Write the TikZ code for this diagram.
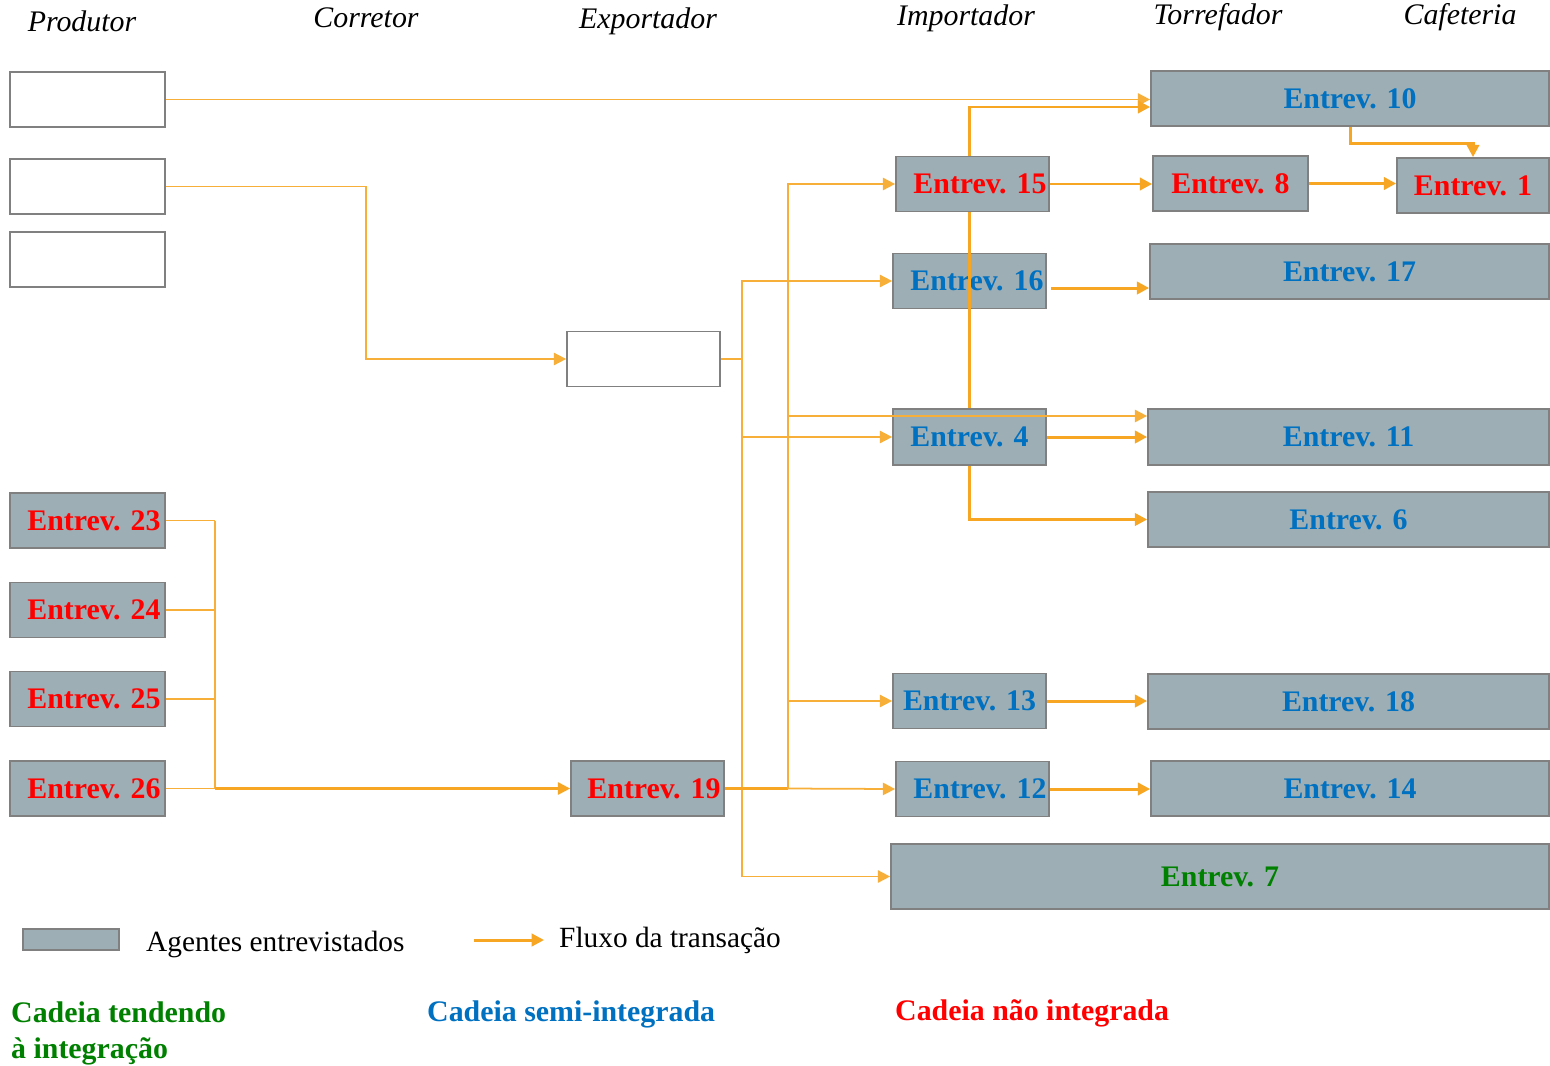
\documentclass[tikz,border=0pt]{standalone}
\usepackage{fontspec}
\setmainfont{Liberation Serif}
\usetikzlibrary{arrows.meta, positioning, calc}

\definecolor{agentgray}{RGB}{157,175,181}
\definecolor{boxline}{RGB}{128,128,128}
\definecolor{flow}{RGB}{246,166,35}
\definecolor{semiblue}{RGB}{0,112,192}
\definecolor{tendgreen}{RGB}{0,128,0}

\tikzset{
  agent/.style={draw=boxline, line width=1pt, fill=agentgray, minimum width={#1*0.02cm},
    minimum height=1.1cm, inner sep=0pt, font=\fontsize{17}{20}\selectfont\bfseries},
  blank/.style={draw=boxline, line width=1pt, fill=white, minimum width={#1*0.02cm},
    minimum height=1.1cm, inner sep=0pt},
  rtext/.style={text width={#1*0.02cm}, align=flush right},
  nint/.style={text=red},
  semi/.style={text=semiblue},
  tend/.style={text=tendgreen},
  role/.style={font=\fontsize{17}{20}\selectfont\itshape},
  legtext/.style={anchor=west, font=\fontsize{16.7}{20}\selectfont},
  chain/.style={font=\fontsize{17}{20.5}\selectfont\bfseries},
  thinflow/.style={flow!90, line width=1pt},
  midflow/.style={flow, line width=1.2pt},
  thickflow/.style={flow, line width=1.7pt},
  toarrow/.style={-{Triangle[length=7pt,width=7pt]}}
}

\begin{document}
\begin{tikzpicture}[x=0.02cm, y=-0.02cm]
	\useasboundingbox (0,0) rectangle (1550,1065);
	
	% cadeia
	\node[role] (produtor) at (82,21) {Produtor};
	\node[role] (corretor) at (366,18) {Corretor};
	\node[role] (exportador) at (648,21) {Exportador};
	\node[role] (importador) at (966,18) {Importador};
	\node[role] (torrefador) at (1218,17) {Torrefador};
	\node[role] (cafeteria) at (1460,17) {Cafeteria};
	
	% agentes
	\node[blank=155] (p1) at (87.5,99.5) {};
	\node[blank=155] (p2) at (87.5,186.5) {};
	\node[blank=155] (p3) at (87.5,259.5) {};
	\node[blank=153] (ex) at (643.5,359) {};
	
	\node[agent=155, rtext=146, nint] (e23) at (87.5,520.5) {Entrev. 23};
	\node[agent=155, rtext=146, nint] (e24) at (87.5,610) {Entrev. 24};
	\node[agent=155, rtext=146, nint] (e25) at (87.5,699) {Entrev. 25};
	\node[agent=155, rtext=146, nint] (e26) at (87.5,788.5) {Entrev. 26};
	\node[agent=153, rtext=146, nint] (e19) at (647.5,788.5) {Entrev. 19};
	
	\node[agent=153, rtext=148, nint] (e15) at (972.5,184) {Entrev. 15};
	\node[agent=153, rtext=148, semi] (e16) at (969.5,281) {Entrev. 16};
	\node[agent=153, semi, minimum height=1.12cm] (e4) at (969.5,437) {Entrev. 4};
	\node[agent=153, semi] (e13) at (969.5,701) {Entrev. 13};
	\node[agent=153, rtext=148, semi] (e12) at (972.5,789) {Entrev. 12};
	\node[agent=658, tend, minimum height=1.3cm] (e7) at (1220,876.5) {Entrev. 7};
	
	\node[agent=398, semi] (e10) at (1350,98.5) {Entrev. 10};
	\node[agent=155, nint] (e8) at (1230.5,183.5) {Entrev. 8};
	\node[agent=152, nint] (e1) at (1473,185.5) {Entrev. 1};
	\node[agent=399, semi] (e17) at (1349.5,271.5) {Entrev. 17};
	\node[agent=401, semi, minimum height=1.12cm] (e11) at (1348.5,437) {Entrev. 11};
	\node[agent=401, semi] (e6) at (1348.5,519.5) {Entrev. 6};
	\node[agent=401, semi] (e18) at (1348.5,701.5) {Entrev. 18};
	\node[agent=398, semi] (e14) at (1350,788.5) {Entrev. 14};
	
	% barramentos
	\coordinate (cbus) at (366,0);
	\coordinate (pbus) at (215,0);
	\coordinate (xbus) at (742,0);
	\coordinate (ibus) at (788,0);
	\coordinate (e10in) at ($(e10.west)+(0,8.5)$);
	\coordinate (e11in) at ($(e11.west)+(0,-21)$);
	\coordinate (e16out) at ($(e16.east)+(4,7)$);
	
	% fluxos finos
	\draw[thinflow, toarrow] (p1.east) -- (p1.east -| e10.west);
	\draw[thinflow, toarrow] (p2.east) -- (p2.east -| cbus) |- (ex.west);
	\draw[thinflow] (ex.east) -- (ex.east -| xbus);
	\draw[thinflow, toarrow] (ex.east -| xbus) |- (e16.west);
	\draw[thinflow, toarrow] (ex.east -| xbus) |- (e4.west);
	\draw[thinflow, toarrow] (ex.east -| xbus) |- (e7.west);
	
	\foreach \n in {23,24,25,26}
		\draw[thinflow] (e\n.east) -- (e\n.east -| pbus);
	\draw[thinflow] (e23.east -| pbus) -- (e26.east -| pbus);
	\draw[midflow, toarrow] (e26.east -| pbus) -- (e19.west);
	
	\draw[midflow] (e19.east) -- (e19.east -| ibus);
	\draw[thinflow, toarrow] (e19.east -| ibus) |- (e15.west);
	\draw[thinflow, toarrow] (e19.east -| ibus) |- (e11in);
	\draw[thinflow, toarrow] (e19.east -| ibus) |- (e13.west);
	\draw[thinflow, toarrow] (e19.east -| ibus) -- (e12.west);
	
	% fluxos grossos
	\draw[thickflow, toarrow] (e4.north |- e15.north) |- (e10in);
	\draw[thickflow] (e4.north |- e15.south) -- (e4.north);
	\draw[thickflow, toarrow] (e4.south) |- (e6.west);
	\draw[thickflow, toarrow] (e15.east) -- (e15.east -| e8.west);
	\draw[thickflow, toarrow] (e8.east) -- (e8.east -| e1.west);
	\draw[thickflow, toarrow] (e10.south) -- ++(0,17) -| (e1.north);
	\draw[thickflow, toarrow] (e16out) -- (e16out -| e17.west);
	\draw[thickflow, toarrow] (e4.east) -- (e11.west);
	\draw[thickflow, toarrow] (e13.east) -- (e13.east -| e18.west);
	\draw[thickflow, toarrow] (e12.east) -- (e12.east -| e14.west);
	
	% legenda
	\node[agent=96, minimum height=0.42cm] (legbox) at (71,939.5) {};
	\node[legtext] (legagent) at (140,944) {Agentes entrevistados};
	\coordinate (lega) at (474,940);
	\coordinate (legb) at (544,940);
	\draw[thickflow, toarrow] (lega) -- (legb);
	\node[legtext] (legflow) at (553,940) {Fluxo da transação};
	
	\node[chain, tend, anchor=north west, align=left] (ctend) at (5,996) {Cadeia tendendo\\à integração};
	\node[chain, semi, anchor=west] (csemi) at (421,1014) {Cadeia semi-integrada};
	\node[chain, nint, anchor=west] (cnint) at (889,1013) {Cadeia não integrada};
\end{tikzpicture}
\end{document}
